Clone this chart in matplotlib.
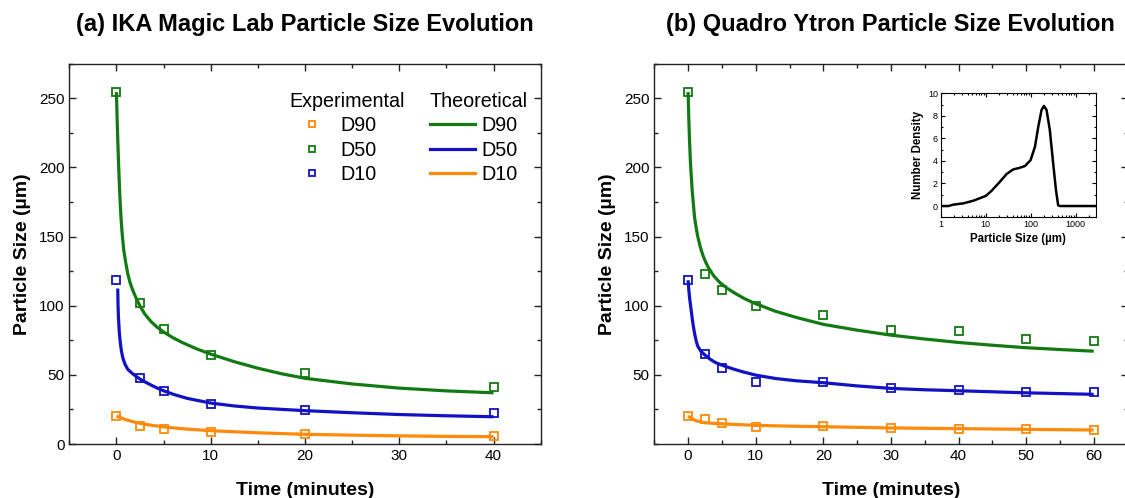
import matplotlib
matplotlib.use("Agg")
import matplotlib.pyplot as plt
from matplotlib.lines import Line2D
from matplotlib.ticker import MultipleLocator, LogLocator, NullFormatter
import numpy as np

plt.rcParams['font.family'] = ['Liberation Sans', 'DejaVu Sans']

GREEN = '#137a13'
BLUE = '#1212c4'
ORANGE = '#ff8a0a'

# --- (a) IKA Magic Lab: experimental points ---
t_a = [0, 2.5, 5, 10, 20, 40]
d90_a = [254.4, 101.6, 82.8, 64.7, 51.5, 41.4]
d50_a = [118.4, 47.7, 38.5, 28.9, 24.5, 22.1]
d10_a = [20.2, 13.0, 10.8, 8.9, 7.2, 5.8]

# --- (a) theoretical curves ---
tc90_a = [0, 0.07, 0.14, 0.22, 0.32, 0.4, 0.49, 0.62, 0.78, 1.0, 1.2, 1.45, 1.73, 2.05, 2.44, 3.0,
          3.67, 4.3, 5, 6, 7, 8.5, 10, 12.5, 15, 17.5, 20, 25, 30, 35, 40]
c90_a = [254.4, 236, 220, 204, 186, 174, 163, 151, 140, 130.5, 123.2, 116.5, 111.2, 106, 100.5, 94,
         88.5, 84.5, 81, 76.8, 73.3, 68.8, 65, 59.5, 54.8, 50.8, 47.5, 43.4, 40.4, 38.4, 37.0]
tc50_a = [0.14, 0.17, 0.21, 0.3, 0.39, 0.52, 0.67, 0.9, 1.2, 1.6, 2.0, 2.44, 3, 3.67, 4.3, 5, 6,
          7.5, 10, 12.5, 15, 20, 25, 30, 35, 40]
c50_a = [112.4, 100, 92, 81, 74.5, 67.5, 62.5, 57.8, 54.0, 51.5, 49.3, 47.2, 45.0, 42.6, 40.5, 38.5,
         36.0, 33.0, 29.6, 27.5, 26.0, 24.1, 22.6, 21.3, 20.4, 19.7]
tc10_a = [0, 1, 2, 3, 4, 5, 7, 10, 15, 20, 25, 30, 35, 40]
c10_a = [20.2, 17.6, 15.7, 14.3, 13.3, 12.4, 11.0, 9.6, 8.1, 7.0, 6.4, 5.9, 5.5, 5.3]

# --- (b) Quadro Ytron: experimental points ---
t_b = [0, 2.5, 5, 10, 20, 30, 40, 50, 60]
d90_b = [254.4, 123.2, 111.2, 99.6, 93.1, 82.3, 81.6, 75.8, 74.6]
d50_b = [118.4, 65.4, 54.6, 45.0, 45.0, 40.2, 39.0, 37.8, 37.3]
d10_b = [20.2, 18.0, 14.9, 12.5, 13.0, 11.3, 10.8, 10.6, 10.1]

# --- (b) theoretical curves ---
tc90_b = [0, 0.1, 0.2, 0.35, 0.6, 0.95, 1.2, 1.44, 1.8, 2.18, 2.6, 3.0, 3.8, 4.67, 5.8, 7, 8.3, 9.7,
          12.9, 16, 20, 25, 30, 35, 40, 45, 50, 55, 60]
c90_b = [254.4, 236, 221, 203, 183.4, 164.1, 156, 149.7, 142.5, 136.5, 131.5, 127.5, 121.5, 116.8,
         112.5, 108.8, 105.2, 102.0, 96.0, 91.5, 86.5, 82.3, 78.7, 75.9, 73.4, 71.4, 69.6, 68.3, 67.1]
tc50_b = [0, 0.1, 0.2, 0.45, 0.7, 0.95, 1.2, 1.44, 1.9, 2.5, 3.2, 4, 5, 6.5, 8, 10, 13, 16, 20, 25,
          30, 35, 40, 50, 60]
c50_b = [118.4, 112, 106.5, 96.8, 87.5, 80, 74.5, 70.6, 67, 64.3, 61.5, 59, 57.0, 54.5, 52.3, 49.8,
         47.3, 45.7, 44.3, 42.0, 40.2, 39.2, 38.5, 37.0, 35.9]
tc10_b = [0, 0.5, 0.95, 1.5, 2.5, 3.5, 5, 7.5, 10, 15, 20, 30, 40, 50, 60]
c10_b = [20.2, 18.6, 17.3, 16.3, 15.4, 15.0, 14.6, 14.0, 13.5, 12.9, 12.5, 11.6, 11.1, 10.6, 10.1]

# --- inset: number density distribution ---
size_in = [1, 1.48, 1.9, 3.2, 5.3, 10, 13.6, 20.8, 29.2, 41, 55, 75, 100, 125, 148, 175, 197, 226,
           267, 317, 366, 410, 450, 2800]
dens_in = [0, 0, 0.12, 0.24, 0.47, 0.89, 1.36, 2.16, 2.84, 3.25, 3.37, 3.55, 4.08, 5.27, 7.04, 8.52,
           8.88, 8.52, 6.75, 3.79, 1.42, 0.06, 0, 0]

W, H = 1125, 498
fig = plt.figure(figsize=(W / 100, H / 100), dpi=100)

ax_a = fig.add_axes([69.3 / W, 1 - 444 / H, (540.7 - 69.3) / W, (444 - 63.6) / H])
ax_b = fig.add_axes([654.3 / W, 1 - 444 / H, (1127.5 - 654.3) / W, (444 - 63.6) / H])


def style(ax, xmax):
    for s in ax.spines.values():
        s.set_linewidth(1.0)
        s.set_color('#222222')
    ax.set_xlim(-5, xmax)
    ax.set_ylim(0, 275)
    ax.xaxis.set_major_locator(MultipleLocator(10))
    ax.xaxis.set_minor_locator(MultipleLocator(5))
    ax.yaxis.set_major_locator(MultipleLocator(50))
    ax.yaxis.set_minor_locator(MultipleLocator(25))
    ax.tick_params(which='both', direction='in', top=True, right=True,
                   width=1.0, colors='#222222', labelsize=11, labelcolor='black')
    ax.tick_params(which='major', length=5)
    ax.tick_params(which='minor', length=3)
    ax.set_xlabel('Time (minutes)', fontsize=14, fontweight='bold', labelpad=14)
    ax.set_ylabel('Particle Size (µm)', fontsize=14, fontweight='bold', labelpad=6)


mk = dict(marker='s', markersize=5.7, markerfacecolor='none', markeredgewidth=1.3, linestyle='none')

for ax, t, d90, d50, d10, curves in [
    (ax_a, t_a, d90_a, d50_a, d10_a,
     [(tc90_a, c90_a, GREEN), (tc50_a, c50_a, BLUE), (tc10_a, c10_a, ORANGE)]),
    (ax_b, t_b, d90_b, d50_b, d10_b,
     [(tc90_b, c90_b, GREEN), (tc50_b, c50_b, BLUE), (tc10_b, c10_b, ORANGE)]),
]:
    for tc, c, col in curves:
        ax.plot(tc, c, color=col, linewidth=2.3, solid_capstyle='butt', solid_joinstyle='round')
    ax.plot(t, d90, color=GREEN, markeredgecolor=GREEN, **mk)
    ax.plot(t, d50, color=BLUE, markeredgecolor=BLUE, **mk)
    ax.plot(t, d10, color=ORANGE, markeredgecolor=ORANGE, **mk)

style(ax_a, 45)
style(ax_b, 65)
ax_b.set_yticks([50, 100, 150, 200, 250])

# titles
fig.text((69.3 + 540.7) / 2 / W, 1 - 25 / H, '(a) IKA Magic Lab Particle Size Evolution',
         ha='center', va='center', fontsize=17, fontweight='bold')
fig.text((654.3 + 1127.5) / 2 / W, 1 - 25 / H, '(b) Quadro Ytron Particle Size Evolution',
         ha='center', va='center', fontsize=17, fontweight='bold')

# legends (as in the original figure)
exp_handles = [Line2D([], [], color=c, markeredgecolor=c, **mk) for c in (ORANGE, GREEN, BLUE)]
th_handles = [Line2D([], [], color=c, linewidth=2.3) for c in (GREEN, BLUE, ORANGE)]
names = ['D90', 'D50', 'D10']
leg_kw = dict(frameon=False, fontsize=14.2, title_fontsize=14.2, loc='upper left',
              handlelength=2.3, handletextpad=0.3, labelspacing=0.27,
              borderpad=0, borderaxespad=0, alignment='left',
              bbox_transform=fig.transFigure, markerscale=0.75)
leg1 = ax_a.legend(exp_handles, names, title='Experimental',
                   bbox_to_anchor=(289 / W, 1 - 92 / H), **leg_kw)
ax_a.add_artist(leg1)
ax_a.legend(th_handles, names, title='Theoretical',
            bbox_to_anchor=(430 / W, 1 - 92 / H), **leg_kw)

# inset
ax_in = fig.add_axes([940.7 / W, 1 - 217.3 / H, 155 / W, 124 / H])
ax_in.plot(size_in, dens_in, color='black', linewidth=1.8, solid_joinstyle='round')
ax_in.set_xscale('log')
ax_in.set_xlim(1, 2800)
ax_in.set_ylim(-1, 10)
ax_in.set_xticks([1, 10, 100, 1000])
ax_in.set_xticklabels(['1', '10', '100', '1000'])
ax_in.xaxis.set_minor_locator(LogLocator(base=10, subs=np.arange(2, 10)))
ax_in.xaxis.set_minor_formatter(NullFormatter())
ax_in.yaxis.set_major_locator(MultipleLocator(2))
ax_in.yaxis.set_minor_locator(MultipleLocator(1))
ax_in.tick_params(which='both', direction='in', top=True, right=True, width=0.8, labelsize=6.5, pad=2)
ax_in.tick_params(which='major', length=3)
ax_in.tick_params(which='minor', length=1.5)
for s in ax_in.spines.values():
    s.set_linewidth(0.8)
ax_in.set_xlabel('Particle Size (µm)', fontsize=8.3, fontweight='bold', labelpad=3)
ax_in.set_ylabel('Number Density', fontsize=8.3, fontweight='bold', labelpad=3)

fig.savefig('out.png', dpi=100)
